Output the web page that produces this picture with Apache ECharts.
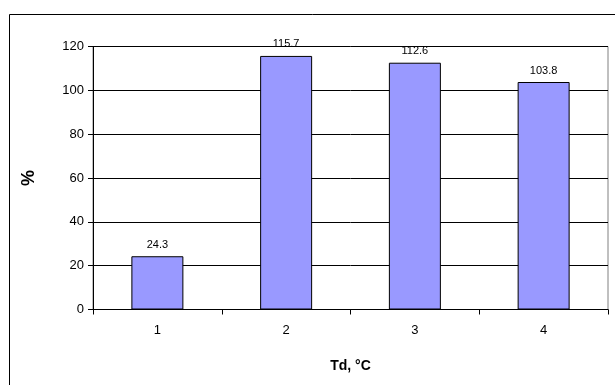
<!DOCTYPE html>
<html><head><meta charset="utf-8">
<script src="https://cdn.jsdelivr.net/npm/echarts@6/dist/echarts.min.js"></script>
<style>html,body{margin:0;padding:0;background:#fff}#c{width:615px;height:385px}</style>
</head><body><div id="c"></div>
<script>
const categories = ['1', '2', '3', '4'];
const values = [24.3, 115.7, 112.6, 103.8];
const yTicks = [0, 20, 40, 60, 80, 100, 120];

const chart = echarts.init(document.getElementById('c'), null, {renderer: 'canvas'});
chart.setOption({
  animation: false,
  backgroundColor: '#fff',
  graphic: [{
    type: 'rect', silent: true, z: 100,
    shape: {x: 9.5, y: 14.5, width: 700, height: 500},
    style: {fill: 'none', stroke: '#000', lineWidth: 1}
  }],
  grid: {left: 93, top: 46.5, right: 7, bottom: 75.5, show: true, borderColor: '#808080', borderWidth: 1, backgroundColor: 'transparent'},
  xAxis: {
    type: 'category', data: categories,
    name: 'Td, °C', nameLocation: 'middle', nameGap: 50,
    nameTextStyle: {fontFamily: 'Liberation Sans, Arial', fontSize: 14, fontWeight: 'bold', color: '#000'},
    axisLine: {lineStyle: {color: '#000', width: 1}},
    axisTick: {show: true, length: 5, lineStyle: {color: '#000'}, alignWithLabel: false},
    axisLabel: {fontFamily: 'Liberation Sans, Arial', fontSize: 13, color: '#000', margin: 14}
  },
  yAxis: {
    type: 'value', min: yTicks[0], max: yTicks[yTicks.length - 1], interval: 20,
    name: '%', nameLocation: 'middle', nameGap: 55, nameRotate: 90,
    nameTextStyle: {fontFamily: 'Liberation Sans, Arial', fontSize: 18, fontWeight: 'bold', color: '#000'},
    axisLine: {show: true, lineStyle: {color: '#000', width: 1}},
    axisTick: {show: true, length: 5, lineStyle: {color: '#000'}},
    axisLabel: {fontFamily: 'Liberation Sans, Arial', fontSize: 13, color: '#000', margin: 9},
    splitLine: {show: true, lineStyle: {color: '#000', width: 1}}
  },
  series: [{
    type: 'bar', data: values, barWidth: 52,
    itemStyle: {color: '#9999FF', borderColor: '#000', borderWidth: 1},
    label: {show: true, position: 'top', distance: 6, fontFamily: 'Liberation Sans, Arial', fontSize: 11, color: '#000'}
  }]
});
</script></body></html>
